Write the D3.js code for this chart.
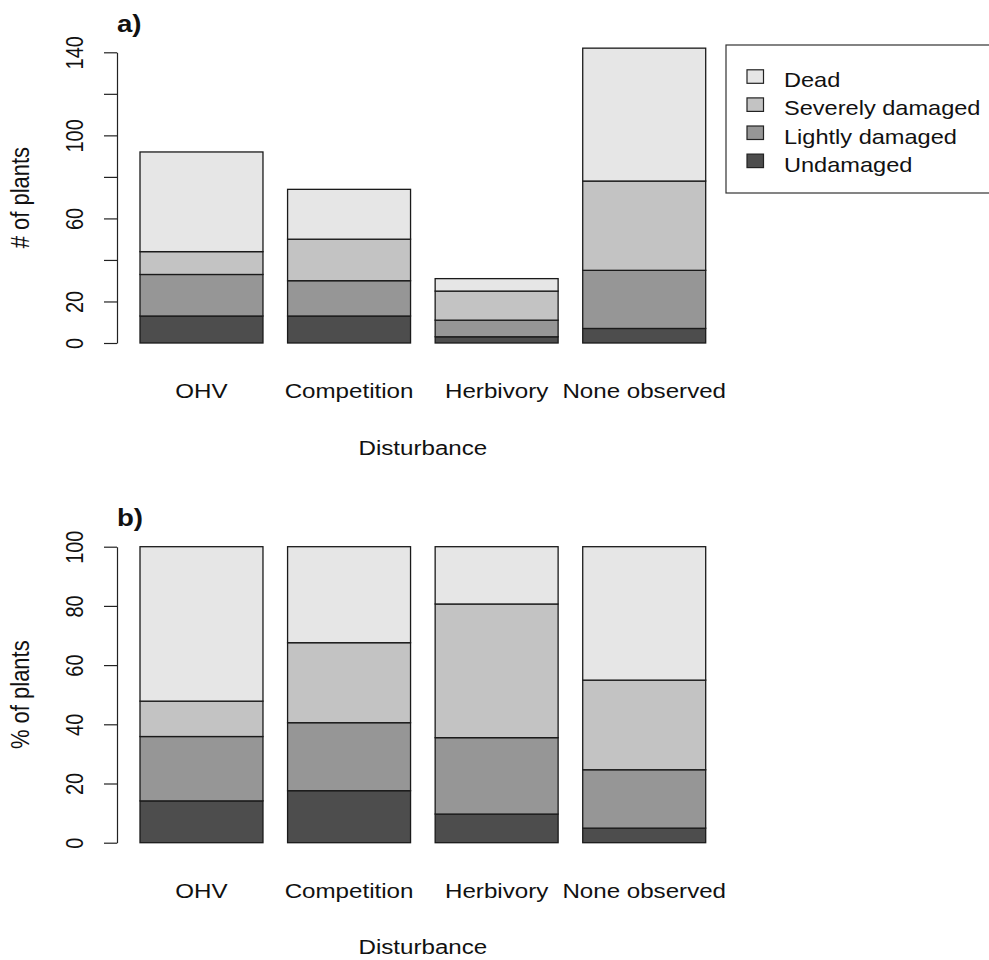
<!DOCTYPE html>
<html>
<head>
<meta charset="utf-8">
<script src="https://cdn.jsdelivr.net/npm/d3@7"></script>
<style>
  body { margin: 0; background: #fff; }
  svg { display: block; }
  text { font-family: "Liberation Sans", Arial, sans-serif; fill: #111; }
</style>
</head>
<body>
<svg id="chart" width="989" height="960"></svg>
<script>
// Plant condition by disturbance type (counts of plants)
const disturbances = ["OHV", "Competition", "Herbivory", "None observed"];
const conditions = ["Undamaged", "Lightly damaged", "Severely damaged", "Dead"];
const undamaged = [13, 13, 3, 7];
const lightlyDamaged = [20, 17, 8, 28];
const severelyDamaged = [11, 20, 14, 43];
const dead = [48, 24, 6, 64];
const conditionColors = ["#4D4D4D", "#969696", "#C3C3C3", "#E6E6E6"];
const legendOrder = ["Dead", "Severely damaged", "Lightly damaged", "Undamaged"];
const countTicks = [0, 20, 40, 60, 80, 100, 120, 140];
const countTickLabels = [0, 20, 60, 100, 140];
const percentTicks = [0, 20, 40, 60, 80, 100];

const svg = d3.select("#chart");
const STRETCH = 1.15; // horizontal text widening

const seriesValues = [undamaged, lightlyDamaged, severelyDamaged, dead];
const countRows = disturbances.map((d, i) => {
  const row = { disturbance: d };
  conditions.forEach((c, j) => { row[c] = seriesValues[j][i]; });
  return row;
});
// same counts expressed as a share of each disturbance's total
const percentRows = countRows.map(r => {
  const total = d3.sum(conditions, c => r[c]);
  const row = { disturbance: r.disturbance };
  conditions.forEach(c => { row[c] = 100 * r[c] / total; });
  return row;
});

const color = d3.scaleOrdinal().domain(conditions).range(conditionColors);
const x = d3.scaleBand().domain(disturbances).range([140, 705.7])
  .paddingInner(1 / 6).paddingOuter(0);
const axisX = 117;

function panel(rows, yMax, yRange, ticks, tickLabels, yTitle, tag, labelBase, titleBase, tagBase) {
  const y = d3.scaleLinear().domain([0, yMax]).range(yRange);
  const g = svg.append("g");
  const stacked = d3.stack().keys(conditions)(rows);

  g.selectAll("g.layer").data(stacked).join("g")
    .attr("class", "layer")
    .attr("fill", d => color(d.key))
    .selectAll("rect").data(d => d).join("rect")
    .attr("x", d => x(d.data.disturbance))
    .attr("width", x.bandwidth())
    .attr("y", d => y(d[1]))
    .attr("height", d => y(d[0]) - y(d[1]))
    .attr("stroke", "#1a1a1a")
    .attr("stroke-width", 1.3);

  const axis = d3.axisLeft(y).tickValues(ticks).tickSize(13).tickSizeOuter(0)
    .tickFormat(d => tickLabels.includes(d) ? String(d) : "");
  const ax = g.append("g").attr("transform", `translate(${axisX},0)`).call(axis);
  ax.select(".domain").attr("stroke", "#222").attr("stroke-width", 1.2);
  ax.selectAll(".tick line").attr("stroke", "#222").attr("stroke-width", 1.2);
  ax.selectAll(".tick text")
    .attr("x", null).attr("dy", null)
    .attr("transform", `translate(${83 - axisX},0) scale(${STRETCH},1) rotate(-90)`)
    .attr("text-anchor", "middle")
    .style("font-family", "'Liberation Sans', Arial, sans-serif")
    .style("font-size", "20px")
    .attr("fill", "#111");

  // category labels under each bar
  g.selectAll("text.cat").data(disturbances).join("text")
    .attr("class", "cat")
    .attr("transform", d => `translate(${x(d) + x.bandwidth() / 2},${labelBase}) scale(${STRETCH},1)`)
    .attr("text-anchor", "middle")
    .style("font-size", "21px")
    .text(d => d);

  g.append("text")
    .attr("transform", `translate(${(x.range()[0] + x.range()[1]) / 2},${titleBase}) scale(${STRETCH},1)`)
    .attr("text-anchor", "middle")
    .style("font-size", "21px")
    .text("Disturbance");

  g.append("text")
    .attr("transform", `translate(29,${(yRange[0] + yRange[1]) / 2}) scale(${STRETCH},1) rotate(-90)`)
    .attr("text-anchor", "middle")
    .style("font-size", "22px")
    .text(yTitle);

  g.append("text")
    .attr("transform", `translate(117,${tagBase}) scale(${STRETCH},1)`)
    .style("font-size", "24px")
    .style("font-weight", "bold")
    .text(tag);
  return y;
}

panel(countRows, 140, [343, 52.3], countTicks, countTickLabels, "# of plants", "a)", 398, 455, 32);
panel(percentRows, 100, [842.7, 546.7], percentTicks, percentTicks, "% of plants", "b)", 897.5, 954, 526);

// legend
const legend = svg.append("g");
legend.append("rect")
  .attr("x", 726).attr("y", 45).attr("width", 300).attr("height", 148)
  .attr("fill", "#fff").attr("stroke", "#333").attr("stroke-width", 1.2);
legendOrder.forEach((name, i) => {
  const base = 87.3 + i * 28.1;
  legend.append("rect")
    .attr("x", 747).attr("y", base - 17.5).attr("width", 16.5).attr("height", 13.5)
    .attr("fill", color(name)).attr("stroke", "#222").attr("stroke-width", 1.2);
  legend.append("text")
    .attr("transform", `translate(784,${base}) scale(${STRETCH},1)`)
    .style("font-size", "20.5px")
    .text(name);
});
</script>
</body>
</html>
